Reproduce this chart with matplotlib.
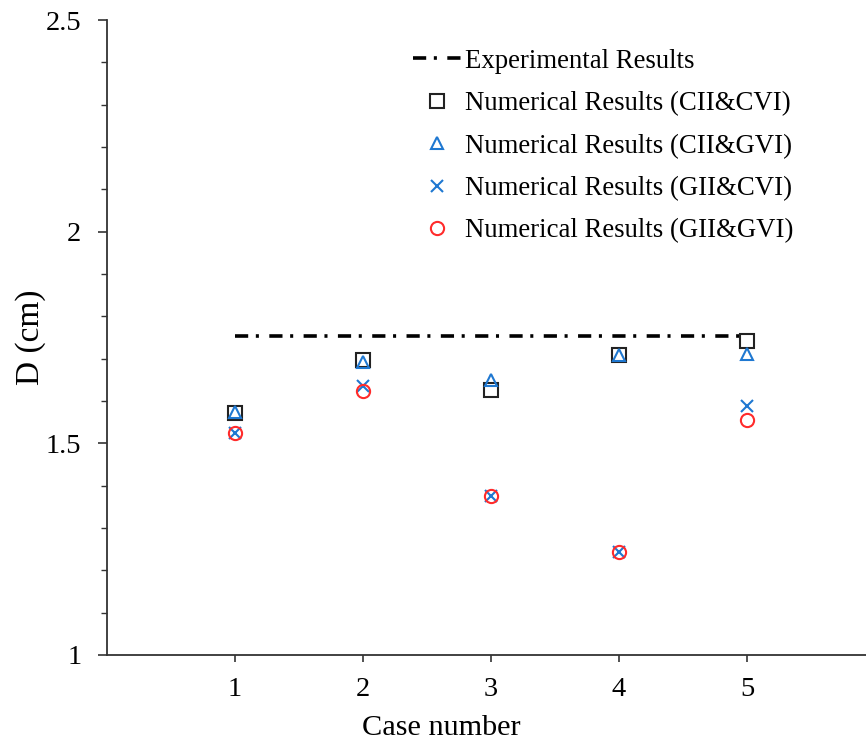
import numpy as np
import matplotlib
matplotlib.use("Agg")
import matplotlib.pyplot as plt
from matplotlib.ticker import MultipleLocator, FuncFormatter

plt.rcParams["font.family"] = ["Liberation Serif", "DejaVu Serif"]
plt.rcParams["lines.scale_dashes"] = False

cases = [1, 2, 3, 4, 5]
experimental = 1.754
cii_cvi = [1.572, 1.697, 1.626, 1.709, 1.742]
cii_gvi = [1.574, 1.692, 1.650, 1.709, 1.711]
gii_cvi = [1.524, 1.635, 1.376, 1.243, 1.588]
gii_gvi = [1.524, 1.624, 1.376, 1.243, 1.555]

blue = "#1f78d1"
red = "#ff2b2b"

fig = plt.figure(figsize=(8.66, 7.42), dpi=100)
ax = fig.add_axes([107 / 866, 87 / 742, 759 / 866, 635 / 742])

ax.plot([cases[0], cases[-1]], [experimental, experimental], color="black",
        lw=2.6, dashes=(9.5, 5.5, 2.2, 7.5), label="Experimental Results")
ax.plot(cases, cii_cvi, ls="none", marker="s", ms=9.5, mfc="none", mec="#222222",
        mew=1.5, label="Numerical Results (CII&CVI)")
ax.plot(cases, cii_gvi, ls="none", marker="^", ms=9, mfc="none", mec=blue,
        mew=1.5, label="Numerical Results (CII&GVI)")
ax.plot(cases, gii_cvi, ls="none", marker="x", ms=8.5, mec=blue,
        mew=1.5, label="Numerical Results (GII&CVI)")
ax.plot(cases, gii_gvi, ls="none", marker="o", ms=9.5, mfc="none", mec=red,
        mew=1.5, label="Numerical Results (GII&GVI)")

ax.set_xlim(0, 5.93)
ax.set_ylim(1, 2.5)
ax.set_xticks(cases)
ax.yaxis.set_major_locator(MultipleLocator(0.5))
ax.yaxis.set_minor_locator(MultipleLocator(0.1))
ax.yaxis.set_major_formatter(FuncFormatter(lambda v, pos: f"{v:g}"))

for side in ("top", "right"):
    ax.spines[side].set_visible(False)
for side in ("left", "bottom"):
    ax.spines[side].set_linewidth(1.3)
    ax.spines[side].set_color("#333333")

ax.tick_params(axis="y", which="major", direction="out", length=6.5, width=1.2,
               labelsize=20.5, pad=12, color="#333333")
ax.tick_params(axis="y", which="minor", direction="out", length=4, width=1.0,
               color="#333333")
ax.tick_params(axis="x", which="major", direction="out", length=5, width=1.2,
               labelsize=20.5, pad=11, color="#333333")

ax.set_xlabel("Case number", fontsize=21.8)
ax.xaxis.set_label_coords(0.441, -0.094)
ax.set_ylabel("D (cm)", fontsize=24, labelpad=-0.5)

ax.legend(loc="upper left", bbox_to_anchor=(0.382, 0.98), frameon=False,
          fontsize=19.3, handlelength=1.8, handletextpad=0.15, labelspacing=0.65,
          borderaxespad=0.2)

fig.savefig("out.png", dpi=100)
